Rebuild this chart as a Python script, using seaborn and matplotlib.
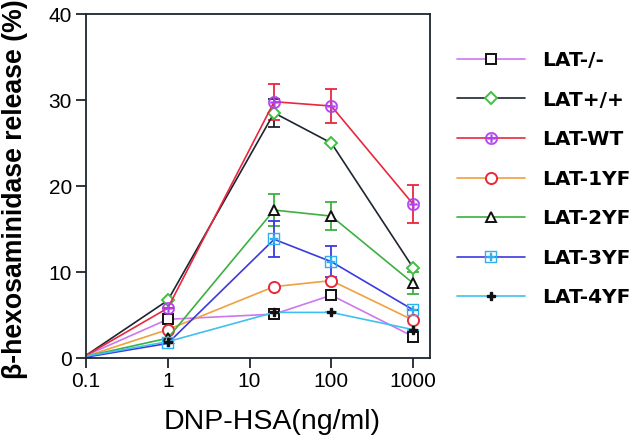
import numpy as np
import pandas as pd
import matplotlib
matplotlib.use("Agg")
import matplotlib.pyplot as plt
import seaborn as sns

sns.set_style("ticks")
plt.rcParams['font.family'] = ['Liberation Sans', 'DejaVu Sans']
plt.rcParams['mathtext.fontset'] = 'dejavusans'
plt.rcParams['text.color'] = 'black'
plt.rcParams['axes.labelcolor'] = 'black'
plt.rcParams['xtick.labelcolor'] = 'black'
plt.rcParams['ytick.labelcolor'] = 'black'

dose = [0.1, 1, 20, 100, 1000]
series_names = ["LAT-/-", "LAT+/+", "LAT-WT", "LAT-1YF", "LAT-2YF", "LAT-3YF", "LAT-4YF"]

lat_ko = [0.3, 4.5, 5.1, 7.3, 2.5]
lat_pp = [0.3, 6.7, 28.5, 25.0, 10.5]
lat_wt = [0.3, 5.8, 29.8, 29.3, 17.9]
lat_1yf = [0.2, 3.3, 8.3, 9.0, 4.4]
lat_2yf = [0.2, 2.3, 17.2, 16.5, 8.7]
lat_3yf = [0.1, 1.7, 13.8, 11.2, 5.6]
lat_4yf = [0.2, 1.9, 5.3, 5.3, 3.3]

err_ko = [0, 0, 0, 0, 0]
err_pp = [0, 0, 1.6, 0, 0]
err_wt = [0, 0, 2.1, 2.0, 2.2]
err_1yf = [0, 0, 0, 0, 0]
err_2yf = [0, 0, 1.9, 1.6, 1.3]
err_3yf = [0, 0, 2.1, 1.8, 0]
err_4yf = [0, 0, 0, 0, 0]

values = [lat_ko, lat_pp, lat_wt, lat_1yf, lat_2yf, lat_3yf, lat_4yf]
errors = [err_ko, err_pp, err_wt, err_1yf, err_2yf, err_3yf, err_4yf]

line_colors = ['#cc77ee', '#1c2530', '#e8283c', '#f0a040', '#3cb040', '#3a3ae0', '#40c0f0']
edge_colors = ['#111111', '#40c040', '#b040f0', '#e8283c', '#111111', '#30b0f0', '#111111']
markers = ['s', 'D', r'$\oplus$', 'o', '^', r'$\boxplus$', 'P']
msizes = [7, 6, 9, 8, 7, 9, 6]
mews = [1.4, 1.4, 0.3, 1.4, 1.4, 0.3, 1.0]
faces = ['white', 'white', '#b040f0', 'white', 'white', '#30b0f0', '#111111']

fig = plt.figure(figsize=(6.4, 4.41), dpi=100)
ax = fig.add_axes([86/640, 1-358/441, (430-86)/640, (358-14)/441])

for name, v, e, lc, ec, mk, ms, mw, fc in zip(series_names, values, errors, line_colors,
                                              edge_colors, markers, msizes, mews, faces):
    df = pd.DataFrame({"dose": dose, "val": v})
    ax.errorbar(dose, v, yerr=e, fmt='none', ecolor=lc, elinewidth=1.3,
                capsize=4, capthick=1.3, zorder=1.5)
    sns.lineplot(data=df, x="dose", y="val", ax=ax, color=lc, lw=1.2,
                 marker=mk, markersize=ms, markeredgecolor=ec, markerfacecolor=fc,
                 markeredgewidth=mw, markevery=[1, 2, 3, 4], label=name, zorder=2)

ax.set_xscale('log')
ax.set_xlim(0.1, 10**3.207)
ax.set_ylim(0, 40)
ax.set_xticks([0.1, 1, 10, 100, 1000])
ax.set_xticklabels(["0.1", "1", "10", "100", "1000"])
ax.set_yticks([0, 10, 20, 30, 40])
ax.minorticks_off()
ax.tick_params(axis='both', labelsize=15, length=7, width=1.3, color='#1c2530',
               labelcolor='black', pad=3)
for s in ax.spines.values():
    s.set_linewidth(1.3)
    s.set_color('#1c2530')

ax.set_xlabel("DNP-HSA(ng/ml)", fontsize=20.5, color='black')
ax.xaxis.set_label_coords(0.541, -0.148)
ax.set_ylabel("β-hexosaminidase release (%)", fontsize=19.2, fontweight='bold', color='black')
ax.yaxis.set_label_coords(-0.168, 0.491)

ax.get_legend().remove()
handles, labels = ax.get_legend_handles_labels()
fig.legend(handles, labels, loc='upper left', bbox_to_anchor=(457/640, 1-51/441),
           frameon=False, borderpad=0, borderaxespad=0, handlelength=3.4,
           handletextpad=0.85, labelspacing=1.02,
           prop={'size': 14.5, 'weight': 'bold', 'family': 'DejaVu Sans'})

fig.savefig("out.png", dpi=100)
